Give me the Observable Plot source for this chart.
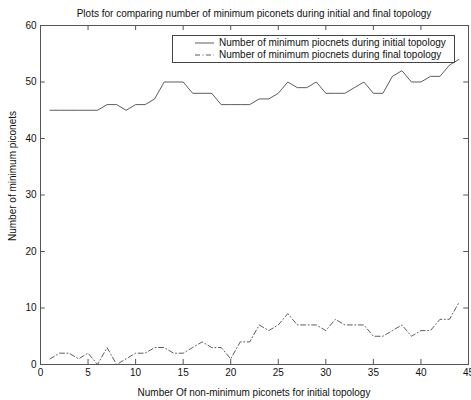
<!DOCTYPE html>
<html>
<head>
<meta charset="utf-8">
<script src="https://cdn.jsdelivr.net/npm/d3@7"></script>
<script src="https://cdn.jsdelivr.net/npm/@observablehq/plot@0.6"></script>
<style>
  body { margin: 0; background: #fff; }
  #wrap { position: relative; width: 471px; height: 400px; font-family: "Liberation Sans", Arial, sans-serif; color: #111; }
  #wrap svg { position: absolute; left: 0; top: 0; }
  .lbl { position: absolute; font-size: 10px; white-space: nowrap; }
  #legend { position: absolute; left: 172px; top: 35px; width: 283px; height: 28px; border: 1px solid #444; background: #fff; box-sizing: border-box; }
  #legend .row { position: absolute; left: 0; height: 13px; font-size: 10px; white-space: nowrap; }
  #legend .row svg { position: static; vertical-align: middle; }
</style>
</head>
<body>
<div id="wrap"></div>
<script>
const titleText = "Plots for comparing number of minimum piconets during initial and final topology";
const xLabel = "Number Of non-minimum piconets for initial topology";
const yLabel = "Number of minimum piconets";
const seriesNames = ["Number of minimum piocnets during initial topology", "Number of minimum piocnets during final topology"];

const xValues = [1,2,3,4,5,6,7,8,9,10,11,12,13,14,15,16,17,18,19,20,21,22,23,24,25,26,27,28,29,30,31,32,33,34,35,36,37,38,39,40,41,42,43,44];
const initialValues = [45,45,45,45,45,45,46,46,45,46,46,47,50,50,50,48,48,48,46,46,46,46,47,47,48,50,49,49,50,48,48,48,49,50,48,48,51,52,50,50,51,51,53,54];
const finalValues = [1,2,2,1,2,0,3,0,1,2,2,3,3,2,2,3,4,3,3,1,4,4,7,6,7,9,7,7,7,6,8,7,7,7,5,5,6,7,5,6,6,8,8,11];
const xTicks = [0,5,10,15,20,25,30,35,40,45];
const yTicks = [0,10,20,30,40,50,60];

const initialData = xValues.map((x, i) => ({x, y: initialValues[i]}));
const finalData = xValues.map((x, i) => ({x, y: finalValues[i]}));

const lineColor = "#333";
const dashFinal = "5,2.5,1,2.5";

const chart = Plot.plot({
  width: 471,
  height: 400,
  marginLeft: 40,
  marginRight: 3,
  marginTop: 25,
  marginBottom: 36,
  style: {fontFamily: "'Liberation Sans', Arial, sans-serif", fontSize: "10px", background: "#fff", color: "#111"},
  x: {domain: [0, 45], label: null},
  y: {domain: [0, 60], label: null},
  marks: [
    Plot.axisX(xTicks, {anchor: "bottom", tickSize: 0, tickPadding: 4, label: null}),
    Plot.axisY(yTicks, {anchor: "left", tickSize: 0, tickPadding: 4, label: null}),
    Plot.ruleX(xTicks, {x: d => d, y1: 0, y2: 0.9, stroke: "#555"}),
    Plot.ruleX(xTicks, {x: d => d, y1: 60, y2: 59.1, stroke: "#555"}),
    Plot.ruleY(yTicks, {y: d => d, x1: 0, x2: 0.5, stroke: "#555"}),
    Plot.ruleY(yTicks, {y: d => d, x1: 45, x2: 44.5, stroke: "#555"}),
    Plot.line(initialData, {x: "x", y: "y", stroke: lineColor, strokeWidth: 0.8}),
    Plot.line(finalData, {x: "x", y: "y", stroke: lineColor, strokeWidth: 0.8, strokeDasharray: dashFinal}),
    Plot.frame({stroke: "#555"})
  ]
});

const wrap = document.getElementById("wrap");
wrap.appendChild(chart);

function addLabel(text, css) {
  const d = document.createElement("div");
  d.className = "lbl";
  d.textContent = text;
  Object.assign(d.style, css);
  wrap.appendChild(d);
  return d;
}
addLabel(titleText, {left: "254px", top: "8px", transform: "translateX(-50%)"});
addLabel(xLabel, {left: "254px", top: "387px", transform: "translateX(-50%)"});
addLabel(yLabel, {left: "12px", top: "176px", transform: "translate(-50%,-50%) rotate(-90deg)"});

const legend = document.createElement("div");
legend.id = "legend";
seriesNames.forEach((name, i) => {
  const row = document.createElement("div");
  row.className = "row";
  row.style.top = (i === 0 ? 1 : 13) + "px";
  const dash = i === 0 ? "" : ` stroke-dasharray="${dashFinal}"`;
  row.innerHTML = `<svg width="46" height="12"><line x1="22" x2="41" y1="6" y2="6" stroke="${lineColor}" stroke-width="0.8"${dash}/></svg>${name}`;
  legend.appendChild(row);
});
wrap.appendChild(legend);
</script>
</body>
</html>
